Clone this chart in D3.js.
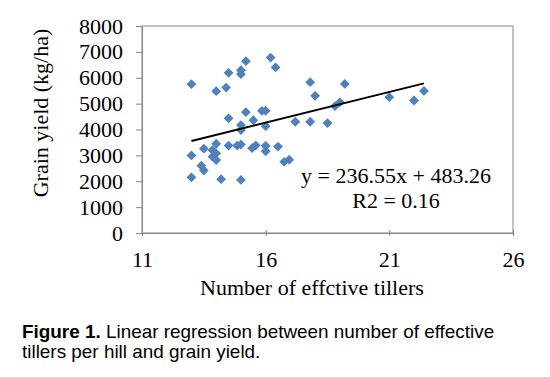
<!DOCTYPE html>
<html>
<head>
<meta charset="utf-8">
<script src="https://cdn.jsdelivr.net/npm/d3@7"></script>
<style>
  body { margin: 0; background: #fff; }
  svg { display: block; }
</style>
</head>
<body>
<svg id="chart"></svg>
<script>
// values (tillers per hill vs grain yield kg/ha)
var tillers = [13.0, 13.0, 13.0, 13.4, 13.5, 13.5, 13.85, 14.0, 14.0, 13.85,
  14.0, 14.2, 14.0, 14.4, 14.5, 14.5, 14.5, 14.85, 15.0, 15.0,
  15.2, 15.0, 15.0, 15.0, 15.0, 15.2, 15.5, 15.45, 15.6, 15.85,
  16.0, 16.0, 16.0, 16.0, 16.2, 16.4, 16.5, 16.75, 16.95, 17.2,
  17.8, 18.0, 19.2, 17.8, 18.5, 18.8, 19.0, 21.0, 22.0, 22.4]
var grainYield = [5750, 3000, 2150, 2600, 2420, 3260, 3200, 3450, 3080, 2950,
  2820, 2080, 5480, 5620, 6190, 4430, 3380, 3380, 6290, 6140,
  6640, 4170, 3980, 3420, 2050, 4670, 4360, 3280, 3390, 4720,
  4720, 4130, 3370, 3160, 6780, 6400, 3340, 2750, 2830, 4300,
  5830, 5300, 5760, 4300, 4250, 4900, 5050, 5250, 5120, 5490]
var xTicks = [11, 16, 21, 26]
var yTicks = [0, 1000, 2000, 3000, 4000, 5000, 6000, 7000, 8000]
var slope = 236.55
var intercept = 483.26
var r2 = 0.16

var width = 550, height = 377
var margin = ({top: 26, right: 37, bottom: 144, left: 142})

var svg = d3.select("#chart")
  .attr("width", width)
  .attr("height", height)

var x = d3.scaleLinear()
  .domain([11, 26])
  .range([margin.left, width - margin.right])

var y = d3.scaleLinear()
  .domain([0, 8000])
  .range([height - margin.bottom, margin.top])

var axisColor = "#868686"
var serif = "'Liberation Serif', 'Times New Roman', serif"
var fs = 22

// plot area frame
svg.append("rect")
  .attr("x", x(11))
  .attr("y", y(8000))
  .attr("width", x(26) - x(11))
  .attr("height", y(0) - y(8000))
  .attr("fill", "none")
  .attr("stroke", axisColor)
  .attr("stroke-width", 1)

var xAxis = g => g
  .attr("transform", `translate(0,${y(0)})`)
  .call(d3.axisBottom(x).tickValues(xTicks).tickSizeInner(3).tickSizeOuter(0).tickPadding(15))
  .call(g => g.selectAll(".tick line").attr("y1", -3))
  .call(g => g.selectAll("line, path").attr("stroke", axisColor))
  .call(g => g.selectAll("text").attr("font-family", serif).attr("font-size", fs).attr("fill", "#000"))

var yAxis = g => g
  .attr("transform", `translate(${x(11)},0)`)
  .call(d3.axisLeft(y).tickValues(yTicks).tickFormat(d3.format("d")).tickSizeInner(6).tickSizeOuter(0).tickPadding(13))
  .call(g => g.selectAll("line, path").attr("stroke", axisColor))
  .call(g => g.selectAll("text").attr("font-family", serif).attr("font-size", fs).attr("fill", "#000"))

svg.append("g").call(xAxis)
svg.append("g").call(yAxis)

// axis titles
svg.append("text")
  .attr("x", 312)
  .attr("y", 295)
  .attr("text-anchor", "middle")
  .attr("font-family", serif)
  .attr("font-size", fs)
  .text("Number of effctive tillers")

svg.append("text")
  .attr("transform", "translate(48,113) rotate(-90)")
  .attr("text-anchor", "middle")
  .attr("font-family", serif)
  .attr("font-size", fs)
  .text("Grain yield (kg/ha)")

// points
var diamond = d3.symbol().type(d3.symbolSquare).size(48)
svg.append("g")
  .attr("fill", "#4f81bd")
  .selectAll("path")
  .data(tillers)
  .join("path")
  .attr("d", diamond)
  .attr("transform", (d, i) => `translate(${x(d)},${y(grainYield[i])}) rotate(45)`)

// trend line
var x0 = d3.min(tillers), x1 = d3.max(tillers)
svg.append("path")
  .attr("fill", "none")
  .attr("stroke", "#000")
  .attr("stroke-width", 2)
  .attr("d", d3.line()([[x(x0), y(slope * x0 + intercept)], [x(x1), y(slope * x1 + intercept)]]))

// equation
svg.append("text")
  .attr("x", 396)
  .attr("y", 183)
  .attr("text-anchor", "middle")
  .attr("font-family", serif)
  .attr("font-size", fs)
  .text(`y = ${slope}x + ${intercept}`)

svg.append("text")
  .attr("x", 396)
  .attr("y", 208)
  .attr("text-anchor", "middle")
  .attr("font-family", serif)
  .attr("font-size", fs)
  .text(`R2 = ${r2}`)

// caption (source image is a bit stretched sideways)
var caption = svg.append("text")
  .attr("transform", "translate(22,0) scale(1.08,1)")
  .attr("font-family", "'Liberation Sans', Arial, sans-serif")
  .attr("font-size", 17.5)
  .attr("fill", "#000")
caption.append("tspan")
  .attr("x", 0).attr("y", 338)
  .attr("font-weight", "bold")
  .text("Figure 1.")
caption.append("tspan")
  .text(" Linear regression between number of effective")
caption.append("tspan")
  .attr("x", 0).attr("y", 358)
  .text("tillers per hill and grain yield.")
</script>
</body>
</html>
